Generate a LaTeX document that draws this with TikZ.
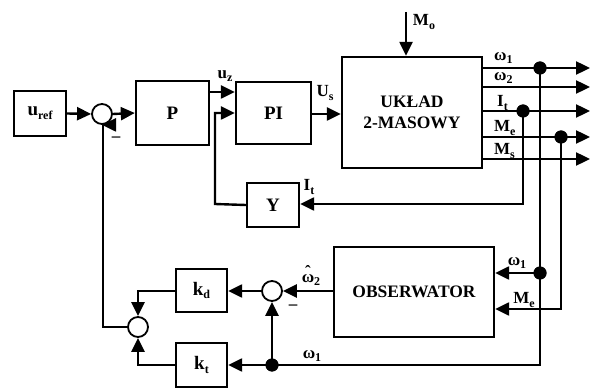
\documentclass[tikz,border=0pt]{standalone}
\usepackage{fontspec}
\setmainfont{Liberation Serif}
\usetikzlibrary{arrows.meta}
\newcommand\lo[1]{\raisebox{-0.45ex}{\fontsize{12}{12}\selectfont #1}}
\newcommand\omhat{\hbox{\ooalign{ω\cr\hidewidth\raisebox{0.3em}{\char"02C6}\hidewidth\cr}}}
\begin{document}
\begin{tikzpicture}[x=1pt,y=-1pt,
  line width=2.4pt,
  font=\fontsize{19}{21}\selectfont\bfseries,
  blk/.style={draw,line width=2.4pt,minimum width=#1,inner sep=0pt},
  sumc/.style={draw,circle,line width=1.8pt,minimum size=20pt,inner sep=0pt,fill=white},
  dotc/.style={circle,fill=black,minimum size=13pt,inner sep=0pt},
  arr/.style={-{Triangle[length=14pt,width=13pt]}},
  lab/.style={inner sep=0pt,font=\fontsize{17}{19}\selectfont\bfseries}]
\useasboundingbox (0,0) rectangle (592,390);
% blocks
\node[blk=52pt,minimum height=45pt] (uref) at (40,113.5) {u\lo{ref}};
\node[sumc] (s1) at (102,114) {};
\node[blk=73pt,minimum height=64pt] (P) at (172.5,113) {P};
\node[blk=75pt,minimum height=62pt] (PI) at (273.5,113) {PI};
\node[blk=52pt,minimum height=44pt] (Y) at (273,205) {Y};
\node[blk=140pt,minimum height=111pt,align=center,font=\fontsize{17.5}{21}\selectfont\bfseries] (U) at (412,112.5) {UKŁAD\\2-MASOWY};
\node[blk=160pt,minimum height=90pt,font=\fontsize{17.5}{21}\selectfont\bfseries] (O) at (414,292) {OBSERWATOR};
\node[sumc] (s2) at (272,291) {};
\node[blk=51pt,minimum height=43pt] (kd) at (201.5,290.5) {k\lo{d}};
\node[blk=51pt,minimum height=44pt] (kt) at (201.5,365) {k\lo{t}};
\node[sumc] (s3) at (138,327) {};
% coordinates
\coordinate (mo) at (406,12);
\coordinate (pz) at (215,204);
\coordinate (pzt) at (215,113);
\coordinate (o1) at (590,68);
\coordinate (o2) at (590,87);
\coordinate (o3) at (590,111);
\coordinate (o4) at (590,137);
\coordinate (o5) at (590,159);
\node[dotc] (d1) at (540,68) {};
\node[dotc] (d3) at (523,111) {};
\node[dotc] (d4) at (561,137) {};
\node[dotc] (d5) at (540,273) {};
\node[dotc] (d6) at (272,365) {};
\coordinate (c1) at (540,365);
\coordinate (c2) at (561,309);
\coordinate (c3) at (523,204);
\coordinate (c4) at (138,291);
\coordinate (c5) at (138,365);
\coordinate (c6) at (103,327);
% connectors
\draw[arr] (uref.east) -- (s1.west);
\draw[arr] (s1.east) -- (P.west);
\draw[arr] (P.east |- 0,92) -- (PI.west |- 0,92);
\draw[arr] (Y.west) -- (pz) -- (pzt) -- (PI.west |- pzt);
\draw[arr] (PI.east |- 0,114) -- (U.west |- 0,114);
\draw[arr] (mo) -- (U.north -| mo);
\draw[arr] (U.east |- o1) -- (o1);
\draw[arr] (U.east |- o2) -- (o2);
\draw[arr] (U.east |- o3) -- (o3);
\draw[arr] (U.east |- o4) -- (o4);
\draw[arr] (U.east |- o5) -- (o5);
\draw (d1.center) -- (d5.center) -- (c1) -- (d6.center);
\draw[arr] (d6.center) -- (kt.east);
\draw[arr] (d5.center) -- (O.east |- d5);
\draw[arr] (d4.center) -- (c2) -- (O.east |- c2);
\draw[arr] (d3.center) -- (c3) -- (Y.east |- c3);
\draw[arr] (O.west |- s2) -- (s2.east);
\draw[arr] (d6.center) -- (s2.south);
\draw[arr] (s2.west) -- (kd.east |- s2);
\draw[arr] (kd.west |- c4) -- (c4) -- (s3.north);
\draw[arr] (kt.west) -- (c5) -- (s3.south);
\draw[arr] (s3.west) -- (c6) -- (c6 |- s1.south) -- (s1.south);
\node[dotc] at (d1) {};
\node[dotc] at (d3) {};
\node[dotc] at (d4) {};
\node[dotc] at (d5) {};
\node[dotc] at (d6) {};
% labels
\node[lab] (lz) at (225,76) {u\lo{z}};
\node[lab] (ls) at (325,93) {U\lo{s}};
\node[lab] (lo) at (424,22) {M\lo{o}};
\node[lab,anchor=west] (l1) at (493,58) {ω\lo{1}};
\node[lab,anchor=west] (l2) at (493,78) {ω\lo{2}};
\node[lab,anchor=west] (l3) at (496,103) {I\lo{t}};
\node[lab,anchor=west] (l4) at (493,128) {M\lo{e}};
\node[lab,anchor=west] (l5) at (493,151) {M\lo{s}};
\node[lab] (l6) at (309,187) {I\lo{t}};
\node[lab] (l7) at (517,263) {ω\lo{1}};
\node[lab] (l8) at (524,300) {M\lo{e}};
\node[lab] (l9) at (311,280) {\omhat\lo{2}};
\node[lab] (l10) at (312,356) {ω\lo{1}};
\node[lab] (m1) at (116,139) {–};
\node[lab] (m2) at (293,307) {–};
\end{tikzpicture}
\end{document}
